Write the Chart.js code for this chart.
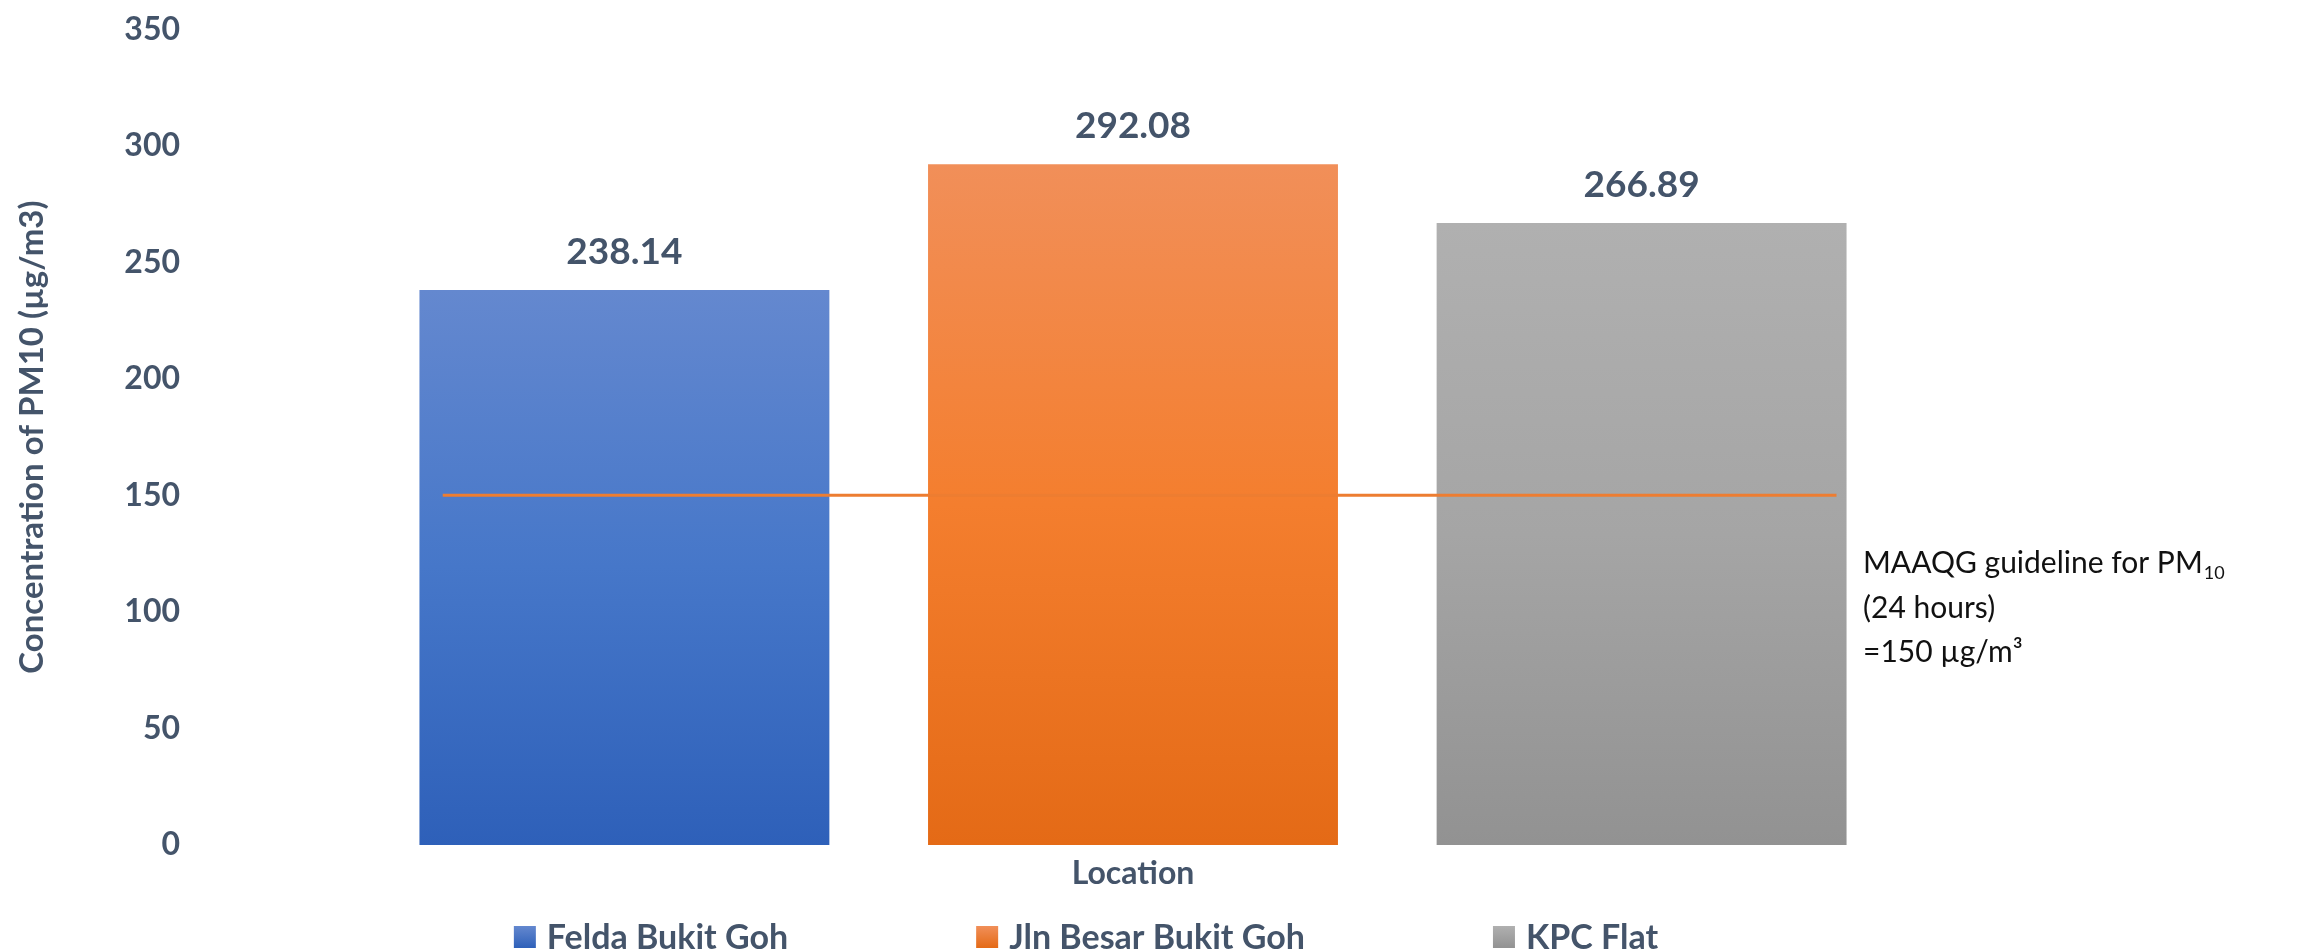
<!DOCTYPE html>
<html>
<head>
<meta charset="utf-8">
<script src="https://cdn.jsdelivr.net/npm/chart.js@4.4.0/dist/chart.umd.min.js"></script>
<style>
html,body{margin:0;padding:0;background:#ffffff;}
#wrap{width:2308px;height:952px;position:relative;}
</style>
</head>
<body>
<div id="wrap"><canvas id="c" width="2308" height="952"></canvas></div>
<script>
// ---- data ----
const categories = ['Location'];
const seriesNames = ['Felda Bukit Goh', 'Jln Besar Bukit Goh', 'KPC Flat'];
const seriesValues = [238.14, 292.08, 266.89];
const guidelineValue = 150;
// guideline start/end, in category-axis units (category centre = 0)
const guidelineXRange = [-0.366, 0.373];
const yAxisTitle = 'Concentration of PM10 (µg/m3)';
const yMin = 0, yMax = 350, yStep = 50;
const noteLine1 = 'MAAQG guideline for PM';
const noteLine1Sub = '10';
const noteLine2 = '(24 hours)';
const noteLine3 = '=150 µg/m³';

// ---- styles ----
const topColors = ['#6488CF', '#F18F59', '#B0B0B0'];
const midColors = ['#4677C9', '#F47E2E', '#A5A5A5'];
const botColors = ['#2E60B9', '#E46A16', '#929292'];
const textColor = '#44546A';
const lineColor = '#ED7D31';

function barFill(i) {
  return (ctx) => {
    const chart = ctx.chart;
    if (!chart.chartArea || !chart.scales.y) return midColors[i];
    const ys = chart.scales.y;
    const top = ys.getPixelForValue(seriesValues[i]);
    const bot = ys.getPixelForValue(0);
    const g = chart.ctx.createLinearGradient(0, top, 0, bot);
    g.addColorStop(0, topColors[i]);
    g.addColorStop(0.5, midColors[i]);
    g.addColorStop(1, botColors[i]);
    return g;
  };
}

const dataLabelPlugin = {
  id: 'dataLabels',
  afterDatasetsDraw(chart) {
    const c = chart.ctx;
    chart.data.datasets.forEach((ds, di) => {
      if (ds.type !== 'bar') return;
      const meta = chart.getDatasetMeta(di);
      meta.data.forEach((el, j) => {
        c.save();
        c.font = 'bold 37px Lato';
        c.fillStyle = textColor;
        c.textAlign = 'center';
        c.textBaseline = 'middle';
        c.fillText(ds.data[j].toFixed(2), el.x, el.y - 38);
        c.restore();
      });
    });
  }
};

const customLegendPlugin = {
  id: 'customLegend',
  afterDraw(chart) {
    const c = chart.ctx;
    const items = chart.data.datasets.map((ds, i) => ({ds, i})).filter(o => o.ds.type === 'bar');
    const box = 22, boxGap = 11, itemGap = 188, centerX = 1086, cy = 937;
    c.save();
    c.font = 'bold 34px Lato';
    const widths = items.map(o => box + boxGap + c.measureText(o.ds.label).width);
    const total = widths.reduce((a, b) => a + b, 0) + itemGap * (items.length - 1);
    let x = centerX - total / 2;
    items.forEach((o, k) => {
      const g = c.createLinearGradient(0, cy - box / 2, 0, cy + box / 2);
      g.addColorStop(0, topColors[o.i]);
      g.addColorStop(1, botColors[o.i]);
      c.fillStyle = g;
      c.fillRect(x, cy - box / 2, box, box);
      c.fillStyle = textColor;
      c.textAlign = 'left';
      c.textBaseline = 'middle';
      c.fillText(o.ds.label, x + box + boxGap, cy + 1);
      x += widths[k] + itemGap;
    });
    c.restore();
  }
};

const notePlugin = {
  id: 'note',
  afterDraw(chart) {
    const c = chart.ctx;
    const x = 1863;
    c.save();
    c.fillStyle = '#111111';
    c.textAlign = 'left';
    c.textBaseline = 'alphabetic';
    c.font = '30px Lato';
    c.fillText(noteLine1, x, 573);
    const w = c.measureText(noteLine1).width;
    c.font = '18px Lato';
    c.fillText(noteLine1Sub, x + w + 1, 579);
    c.font = '30px Lato';
    c.fillText(noteLine2, x, 618);
    c.fillText(noteLine3, x, 662);
    c.restore();
  }
};

function draw() {
  const datasets = seriesNames.map((name, i) => ({
    type: 'bar',
    label: name,
    data: [seriesValues[i]],
    backgroundColor: barFill(i),
    borderWidth: 0,
    categoryPercentage: 0.809,
    barPercentage: 0.806,
    order: 1
  }));
  datasets.push({
    type: 'line',
    label: 'MAAQG guideline',
    parsing: false,
    normalized: true,
    data: guidelineXRange.map(x => ({x: x, y: guidelineValue})),
    borderColor: lineColor,
    borderWidth: 3,
    pointRadius: 0,
    fill: false,
    order: 0
  });

  new Chart(document.getElementById('c'), {
    type: 'bar',
    data: { labels: categories, datasets: datasets },
    options: {
      responsive: false,
      devicePixelRatio: 1,
      animation: false,
      layout: { padding: { top: 22, right: 232, left: 0, bottom: 0 } },
      plugins: {
        legend: { display: false },
        tooltip: { enabled: false }
      },
      scales: {
        x: {
          type: 'category',
          offset: true,
          grid: { display: false, drawTicks: false },
          border: { display: false },
          ticks: { color: textColor, font: { family: 'Lato', weight: 'bold', size: 32 }, padding: 9 },
          afterFit: (s) => { s.height = 107; }
        },
        y: {
          min: yMin,
          max: yMax,
          grid: { display: false, drawTicks: false },
          border: { display: false },
          ticks: { stepSize: yStep, color: textColor, font: { family: 'Lato', weight: 'bold', size: 32 }, padding: 10 },
          title: { display: true, text: yAxisTitle, color: textColor, font: { family: 'Lato', weight: 'bold', size: 33 }, padding: 13 },
          afterFit: (s) => { s.width = 190; }
        }
      }
    },
    plugins: [dataLabelPlugin, customLegendPlugin, notePlugin]
  });
}

if (document.fonts && document.fonts.load) {
  Promise.all([
    document.fonts.load('bold 32px Lato'),
    document.fonts.load('30px Lato')
  ]).then(draw, draw);
} else {
  draw();
}
</script>
</body>
</html>
